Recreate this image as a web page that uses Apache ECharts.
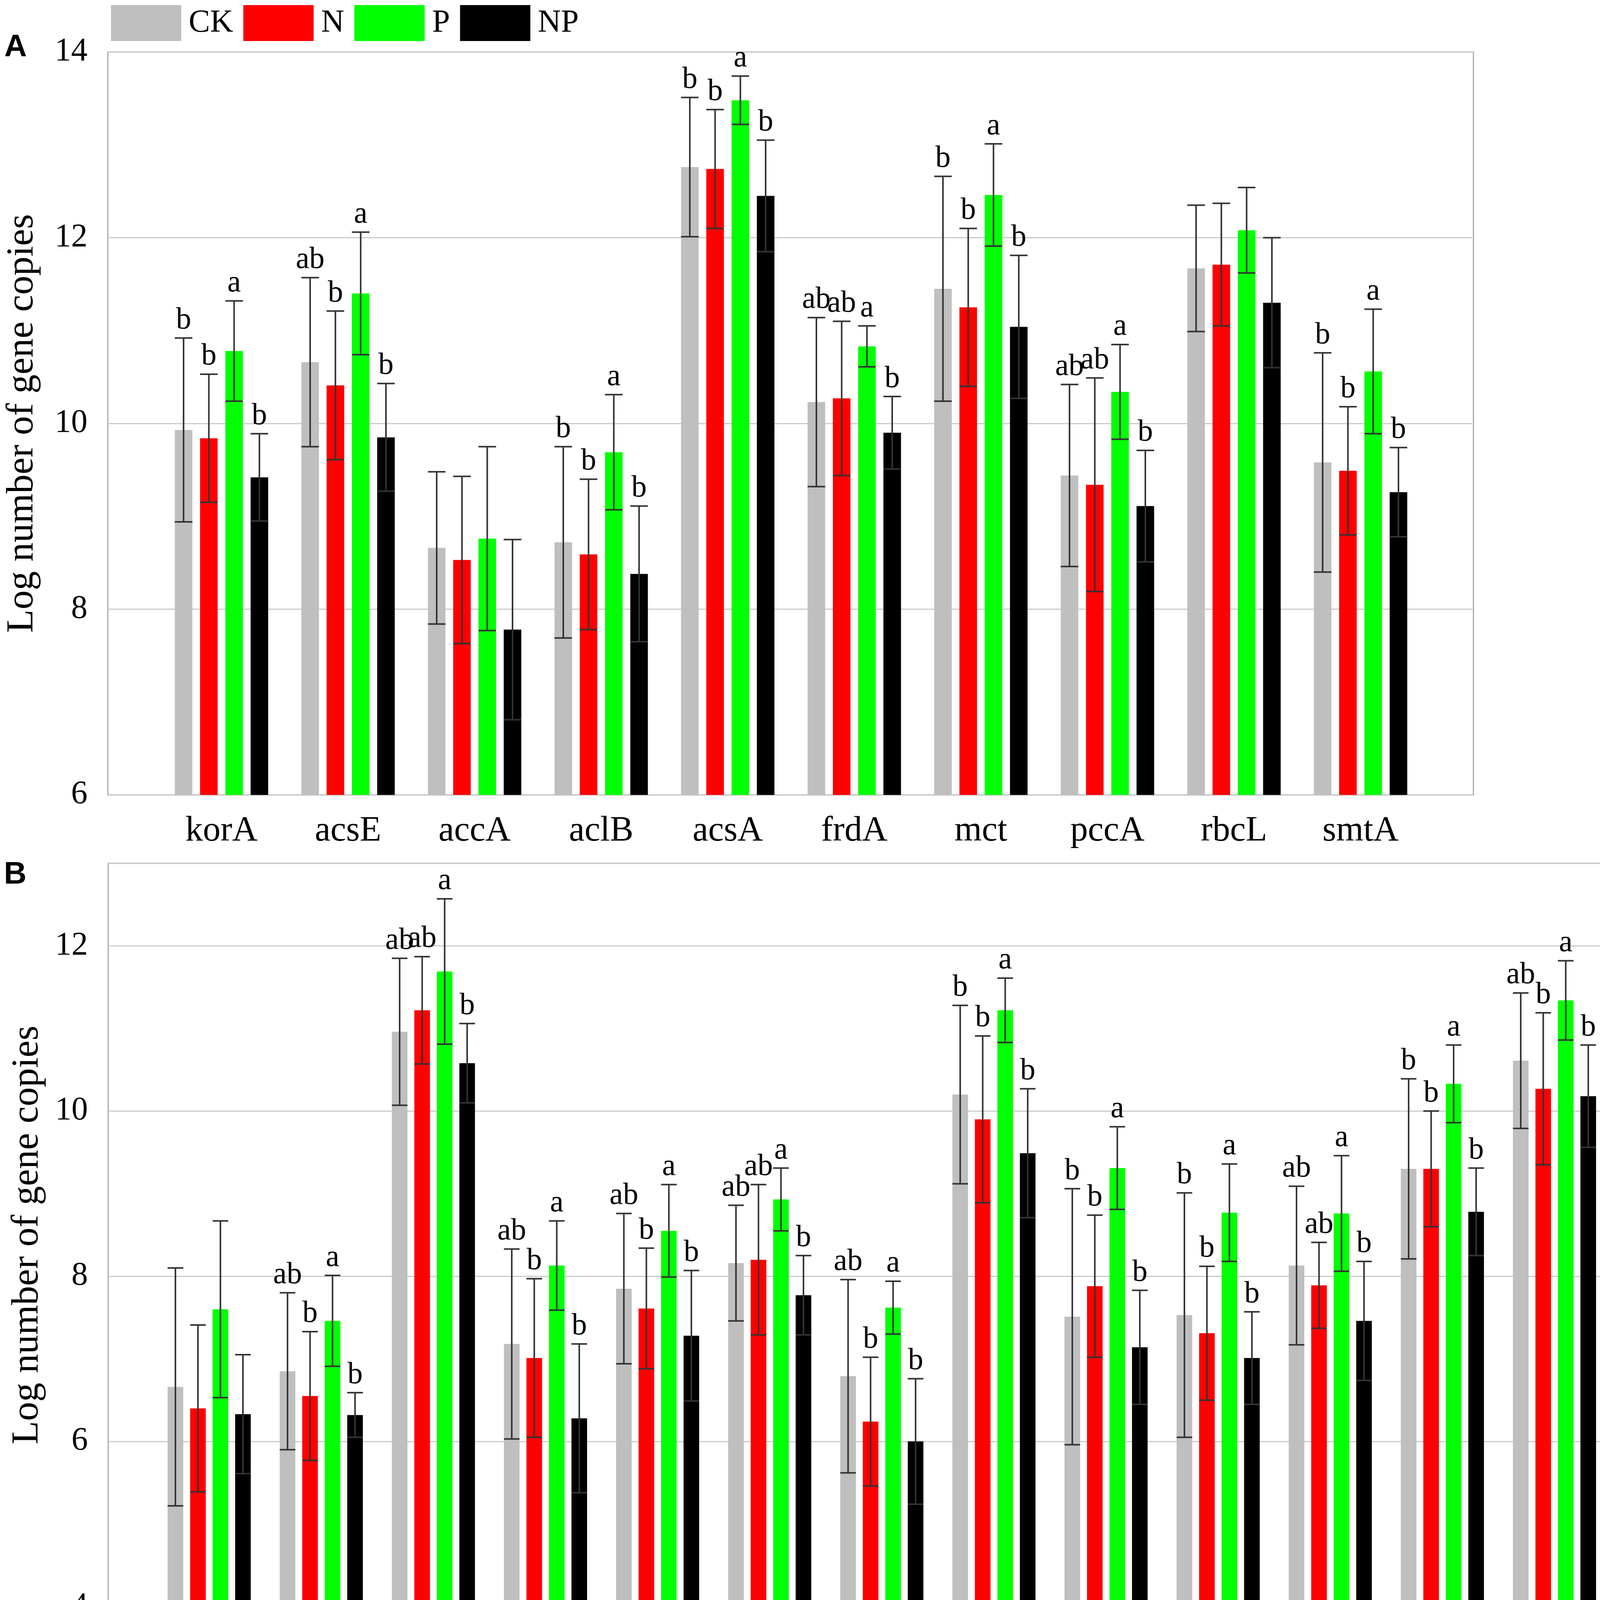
<!DOCTYPE html>
<html>
<head>
<meta charset="utf-8">
<script src="https://cdn.jsdelivr.net/npm/echarts@6/dist/echarts.min.js"></script>
<style>
html, body { margin: 0; padding: 0; background: #fff; }
#chart { width: 4550px; height: 4261px; }
</style>
</head>
<body>
<div id="chart"></div>
<script>
// panel A
var genesA = ["korA", "acsE", "accA", "aclB", "acsA", "frdA", "mct", "pccA", "rbcL", "smtA"];
var ckA  = [9.93, 10.66, 8.66, 8.72, 12.76, 10.23, 11.45, 9.44, 11.67, 9.58];
var nA   = [9.84, 10.41, 8.53, 8.59, 12.74, 10.27, 11.25, 9.34, 11.71, 9.49];
var pA   = [10.78, 11.40, 8.76, 9.69, 13.48, 10.83, 12.46, 10.34, 12.08, 10.56];
var npA  = [9.42, 9.85, 7.78, 8.38, 12.45, 9.90, 11.04, 9.11, 11.30, 9.26];
var ckErrA = [0.99, 0.91, 0.82, 1.03, 0.75, 0.91, 1.21, 0.98, 0.68, 1.18];
var nErrA  = [0.69, 0.80, 0.90, 0.81, 0.64, 0.83, 0.85, 1.15, 0.66, 0.69];
var pErrA  = [0.54, 0.66, 0.99, 0.62, 0.26, 0.22, 0.55, 0.51, 0.46, 0.67];
var npErrA = [0.47, 0.58, 0.97, 0.73, 0.60, 0.39, 0.77, 0.60, 0.70, 0.48];
var sigA = [
    ["b", "b", "a", "b"], ["ab", "b", "a", "b"], ["", "", "", ""], ["b", "b", "a", "b"],
    ["b", "b", "a", "b"], ["ab", "ab", "a", "b"], ["b", "b", "a", "b"], ["ab", "ab", "a", "b"],
    ["", "", "", ""], ["b", "b", "a", "b"]
];

// panel B
var genesB = ["amyA", "apu", "abfA", "CDH", "chiA", "exg", "exoPG", "gam", "glx", "IsoP", "lig", "mnp", "manA", "xylA"];
var ckB  = [6.66, 6.85, 10.96, 7.18, 7.85, 8.16, 6.79, 10.20, 7.51, 7.53, 8.13, 9.30, 10.61, 10.35];
var nB   = [6.40, 6.55, 11.22, 7.01, 7.61, 8.20, 6.24, 9.90, 7.88, 7.31, 7.89, 9.30, 10.27, 10.19];
var pB   = [7.60, 7.46, 11.69, 8.13, 8.55, 8.93, 7.62, 11.22, 9.31, 8.77, 8.76, 10.33, 11.34, 11.44];
var npB  = [6.33, 6.32, 10.58, 6.28, 7.28, 7.77, 6.00, 9.49, 7.14, 7.01, 7.46, 8.78, 10.18, 9.97];
var ckErrB = [1.44, 0.95, 0.89, 1.15, 0.91, 0.70, 1.17, 1.08, 1.55, 1.48, 0.96, 1.09, 0.82, 1.05];
var nErrB  = [1.01, 0.78, 0.65, 0.96, 0.73, 0.91, 0.78, 1.01, 0.86, 0.81, 0.52, 0.70, 0.92, 0.85];
var pErrB  = [1.07, 0.55, 0.88, 0.54, 0.56, 0.38, 0.32, 0.39, 0.50, 0.59, 0.70, 0.47, 0.48, 0.31];
var npErrB = [0.72, 0.27, 0.48, 0.90, 0.79, 0.48, 0.76, 0.78, 0.69, 0.56, 0.72, 0.53, 0.62, 0.91];
var sigB = [
    ["", "", "", ""], ["ab", "b", "a", "b"], ["ab", "ab", "a", "b"], ["ab", "b", "a", "b"],
    ["ab", "b", "a", "b"], ["ab", "ab", "a", "b"], ["ab", "b", "a", "b"], ["b", "b", "a", "b"],
    ["b", "b", "a", "b"], ["b", "b", "a", "b"], ["ab", "ab", "a", "b"], ["b", "b", "a", "b"],
    ["ab", "b", "a", "b"], ["b", "b", "a", "b"]
];

var names = ["CK", "N", "P", "NP"];
var colors = ["#bfbfbf", "#ff0000", "#00ff00", "#000000"];
var serif = "'Times New Roman', 'Liberation Serif', serif";

var chart = echarts.init(document.getElementById("chart"));

function bars(valueLists, axis, barW, gap) {
    return valueLists.map(function (vals, i) {
        return {
            name: names[i],
            type: "bar",
            xAxisIndex: axis,
            yAxisIndex: axis,
            data: vals,
            barWidth: barW,
            barGap: (gap / barW * 100) + "%",
            itemStyle: { color: colors[i] },
            z: 2
        };
    });
}

function errors(valueLists, errLists, sigs, axis, barW, gap) {
    var items = [], letters = [];
    valueLists.forEach(function (vals, si) {
        vals.forEach(function (v, ci) {
            items.push([ci, si, v, errLists[si][ci]]);
            letters.push(sigs[ci][si]);
        });
    });
    var pitch = barW + gap;
    return {
        type: "custom",
        xAxisIndex: axis,
        yAxisIndex: axis,
        data: items,
        z: 5,
        silent: true,
        renderItem: function (params, api) {
            var ci = api.value(0), si = api.value(1), v = api.value(2), e = api.value(3);
            var x = api.coord([ci, v])[0] + (si - 1.5) * pitch;
            var top = api.coord([ci, v + e])[1];
            var bot = api.coord([ci, v - e])[1];
            var h = barW / 2;
            var ls = { stroke: "#333", lineWidth: 4 };
            return {
                type: "group",
                children: [
                    { type: "line", shape: { x1: x, y1: top, x2: x, y2: bot }, style: ls },
                    { type: "line", shape: { x1: x - h, y1: top, x2: x + h, y2: top }, style: ls },
                    { type: "line", shape: { x1: x - h, y1: bot, x2: x + h, y2: bot }, style: ls },
                    {
                        type: "text",
                        style: {
                            x: x, y: top - 6, text: letters[params.dataIndex],
                            textAlign: "center", textVerticalAlign: "bottom",
                            fontSize: 78, fontFamily: serif, fill: "#000"
                        }
                    }
                ]
            };
        }
    };
}

function outerY(grid, min, max, gap) {
    return {
        gridIndex: grid, type: "value", min: min, max: max, interval: 2,
        name: "Log number of gene copies", nameLocation: "middle", nameGap: gap,
        nameTextStyle: { fontSize: 98, fontFamily: serif, color: "#000" },
        axisLine: { show: false }, axisTick: { show: false },
        axisLabel: { fontSize: 84, fontFamily: serif, color: "#000", margin: 52, showMaxLabel: grid === 0 },
        splitLine: { lineStyle: { color: "#cccccc", width: 3 } }
    };
}

function innerX(grid, genes, margin) {
    return {
        gridIndex: grid, type: "category", data: genes,
        axisLine: { show: false }, axisTick: { show: false },
        axisLabel: { fontSize: 90, fontFamily: serif, color: "#000", margin: margin, interval: 0 }
    };
}

var valsA = [ckA, nA, pA, npA], errsA = [ckErrA, nErrA, pErrA, npErrA];
var valsB = [ckB, nB, pB, npB], errsB = [ckErrB, nErrB, pErrB, npErrB];

var option = {
    backgroundColor: "#fff",
    animation: false,
    legend: {
        data: names, left: 279, top: 8, icon: "rect",
        itemWidth: 180, itemHeight: 92, itemGap: 26,
        textStyle: { fontSize: 82, fontFamily: serif, color: "#000", padding: [0, 0, 0, 14] }
    },
    graphic: [
        { type: "text", left: 11, top: 82, style: { text: "A", fontSize: 80, fontWeight: "bold", fontFamily: "'Liberation Sans', Arial, sans-serif", fill: "#000" } },
        { type: "text", left: 10, top: 2200, style: { text: "B", fontSize: 80, fontWeight: "bold", fontFamily: "'Liberation Sans', Arial, sans-serif", fill: "#000" } }
    ],
    grid: [
        { left: 276, top: 133, width: 3496, height: 1902, show: true, borderColor: "#a6a6a6", borderWidth: 3, backgroundColor: "#fff" },
        { left: 405, top: 133, width: 3240, height: 1902 },
        { left: 277, top: 2210, width: 4250, height: 1903, show: true, borderColor: "#a6a6a6", borderWidth: 3, backgroundColor: "#fff" },
        { left: 392, top: 2210, width: 4018, height: 1903 }
    ],
    xAxis: [
        { gridIndex: 0, type: "value", show: false, min: 0, max: 1 },
        innerX(1, genesA, 48),
        { gridIndex: 2, type: "value", show: false, min: 0, max: 1 },
        innerX(3, genesB, 40)
    ],
    yAxis: [
        outerY(0, 6, 14, 170),
        { gridIndex: 1, type: "value", min: 6, max: 14, show: false, splitLine: { show: false } },
        outerY(2, 4, 13, 158),
        { gridIndex: 3, type: "value", min: 4, max: 13, show: false, splitLine: { show: false } }
    ],
    series: [].concat(
        bars(valsA, 1, 45, 19.7),
        [errors(valsA, errsA, sigA, 1, 45, 19.7)],
        bars(valsB, 3, 40, 17.6),
        [errors(valsB, errsB, sigB, 3, 40, 17.6)]
    )
};

chart.setOption(option);
</script>
</body>
</html>
